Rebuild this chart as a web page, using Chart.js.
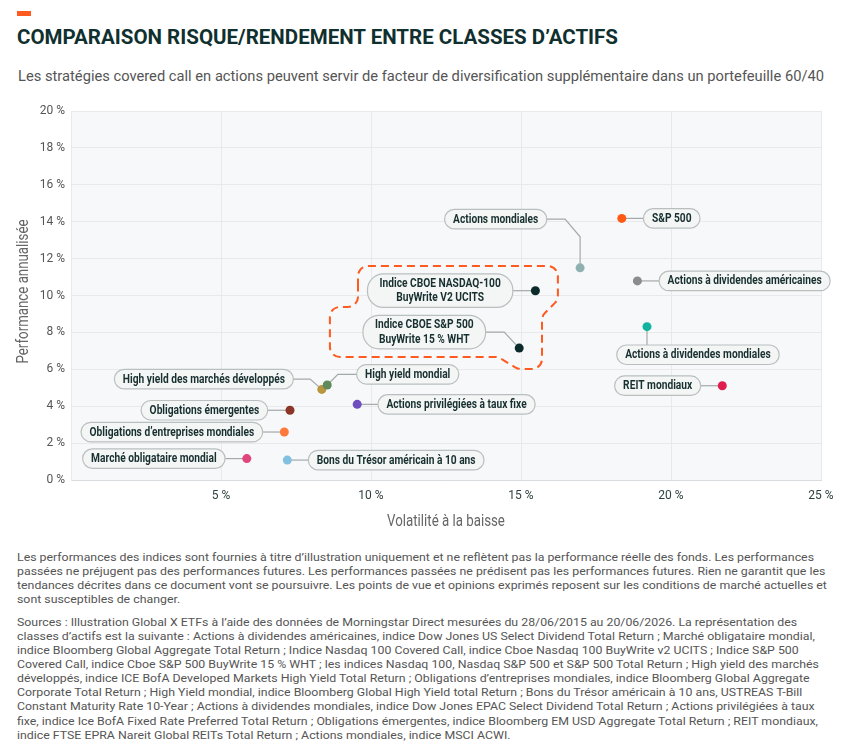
<!DOCTYPE html>
<html lang="fr">
<head>
<meta charset="utf-8">
<title>Comparaison risque/rendement entre classes d’actifs</title>
<script src="https://cdn.jsdelivr.net/npm/chart.js@4.4.1/dist/chart.umd.min.js"></script>
<style>
  html, body { margin: 0; padding: 0; background: #fff; }
  body { width: 851px; height: 752px; position: relative; overflow: hidden; font-family: Roboto, "Noto Sans", sans-serif; }
  .bar { position: absolute; left: 17px; top: 11px; width: 14px; height: 5px; background: #ff5a1f; }
  .fit { position: absolute; white-space: nowrap; transform-origin: 0 0; }
  #title { left: 17px; top: 24px; font-weight: 700; font-size: 21px; line-height: 26px; color: #10302f; }
  #subtitle { left: 18px; top: 66px; font-size: 15px; line-height: 20px; color: #555; }
  #chart { position: absolute; left: 0; top: 95px; width: 851px; height: 445px; }
  .note { left: 17px; font-size: 11.5px; line-height: 14.15px; color: #555; }
  #note1 { top: 550px; }
  #note2 { top: 614.5px; }
</style>
</head>
<body>
<div class="bar"></div>
<div id="title" class="fit" data-w="601"><span class="ref">COMPARAISON RISQUE/RENDEMENT ENTRE CLASSES D’ACTIFS</span></div>
<div id="subtitle" class="fit" data-w="806"><span class="ref">Les stratégies covered call en actions peuvent servir de facteur de diversification supplémentaire dans un portefeuille 60/40</span></div>

<canvas id="chart" width="851" height="445"></canvas>

<div id="note1" class="fit note" data-w="797"><span class="ref">Les performances des indices sont fournies à titre d’illustration uniquement et ne reflètent pas la performance réelle des fonds. Les performances</span><br>passées ne préjugent pas des performances futures. Les performances passées ne prédisent pas les performances futures. Rien ne garantit que les<br>tendances décrites dans ce document vont se poursuivre. Les points de vue et opinions exprimés reposent sur les conditions de marché actuelles et<br>sont susceptibles de changer.</div>
<div id="note2" class="fit note"><span class="ref">Sources : Illustration Global X ETFs à l’aide des données de Morningstar Direct mesurées du 28/06/2015 au 20/06/2026. La représentation des</span><br>classes d’actifs est la suivante : Actions à dividendes américaines, indice Dow Jones US Select Dividend Total Return ; Marché obligataire mondial,<br>indice Bloomberg Global Aggregate Total Return ; Indice Nasdaq 100 Covered Call, indice Cboe Nasdaq 100 BuyWrite v2 UCITS ; Indice S&amp;P 500<br>Covered Call, indice Cboe S&amp;P 500 BuyWrite 15 % WHT ; les indices Nasdaq 100, Nasdaq S&amp;P 500 et S&amp;P 500 Total Return ; High yield des marchés<br>développés, indice ICE BofA Developed Markets High Yield Total Return ; Obligations d’entreprises mondiales, indice Bloomberg Global Aggregate<br>Corporate Total Return ; High Yield mondial, indice Bloomberg Global High Yield total Return ; Bons du Trésor américain à 10 ans, USTREAS T-Bill<br>Constant Maturity Rate 10-Year ; Actions à dividendes mondiales, indice Dow Jones EPAC Select Dividend Total Return ; Actions privilégiées à taux<br>fixe, indice Ice BofA Fixed Rate Preferred Total Return ; Obligations émergentes, indice Bloomberg EM USD Aggregate Total Return ; REIT mondiaux,<br>indice FTSE EPRA Nareit Global REITs Total Return ; Actions mondiales, indice MSCI ACWI.</div>

<script>
// asset classes
var assetNames = [
  ["S&P 500"],
  ["Actions mondiales"],
  ["Indice CBOE NASDAQ-100", "BuyWrite V2 UCITS"],
  ["Indice CBOE S&P 500", "BuyWrite 15 % WHT"],
  ["Actions à dividendes américaines"],
  ["Actions à dividendes mondiales"],
  ["REIT mondiaux"],
  ["High yield des marchés développés"],
  ["High yield mondial"],
  ["Obligations émergentes"],
  ["Obligations d’entreprises mondiales"],
  ["Marché obligataire mondial"],
  ["Bons du Trésor américain à 10 ans"],
  ["Actions privilégiées à taux fixe"]
];
// downside volatility (%)
var volatility = [18.36, 16.97, 15.48, 14.94, 18.88, 19.2, 21.71, 8.36, 8.54, 7.3, 7.11, 5.86, 7.21, 9.54];
// annualised performance (%)
var performance = [14.18, 11.5, 10.26, 7.15, 10.79, 8.31, 5.11, 4.91, 5.15, 3.78, 2.6, 1.16, 1.08, 4.1];

var xTicks = [5, 10, 15, 20, 25];
var yTicks = [0, 2, 4, 6, 8, 10, 12, 14, 16, 18, 20];

// styles
var dotColors = ["#ff5a14", "#8fb1b1", "#0b2b2b", "#0b2b2b", "#8c8c8c", "#13b3a0", "#e01e4e",
                 "#b8963e", "#5f8a5a", "#8b3626", "#ff7a3a", "#e0457c", "#80c0e0", "#6e4fc0"];

// where each pill label sits relative to its dot (px): anchor side, offset, elbow points
var labelLayout = [
  {a: "L", dx: 21.6, dy: 0},
  {a: "R", dx: -33.3, dy: -48.7, via: [[0, -31], [-15, -48.7]]},
  {a: "R", dx: -22.6, dy: 0},
  {a: "R", dx: -33.6, dy: -16, via: [[-15, -16]]},
  {a: "L", dx: 21.7, dy: 0},
  {a: "T", dx: 0, dy: 18.3, inset: 30.3},
  {a: "R", dx: -21.6, dy: 0},
  {a: "R", dx: -28.4, dy: -10.3, via: [[-11.7, -10.3]]},
  {a: "L", dx: 29.4, dy: -10.7, via: [[10.7, -10.7]]},
  {a: "R", dx: -22.3, dy: 0},
  {a: "R", dx: -21.6, dy: 0},
  {a: "R", dx: -21.7, dy: 0},
  {a: "L", dx: 21, dy: 0},
  {a: "L", dx: 20.7, dy: 0}
];

// dashed outline round the two covered call indices, in axis units
var outlineX = [9.567, 16.23, 16.23, 15.70, 15.70, 14.9, 14.23, 8.63, 8.63, 9.567];
var outlineY = [11.60, 11.60, 9.76, 8.89, 6.02, 6.02, 6.67, 6.67, 9.38, 9.38];

var LABEL_FONT = "bold 12px Roboto";
var SQUEEZE = 0.85;

function fitText() {
  var scale = null;
  document.querySelectorAll(".fit").forEach(function (el) {
    var ref = el.querySelector(".ref");
    if (el.dataset.w) {
      scale = parseFloat(el.dataset.w) / ref.getBoundingClientRect().width;
    }
    el.style.transform = "scaleX(" + scale + ")";
  });
}

function pillBox(ctx, lines, p, lay) {
  ctx.font = LABEL_FONT;
  var w = 0;
  lines.forEach(function (l) { w = Math.max(w, ctx.measureText(l).width * SQUEEZE); });
  var bw = w + (lines.length > 1 ? 24 : 17);
  var bh = lines.length > 1 ? 33.5 : 19.5;
  var ax = p.x + lay.dx, ay = p.y + lay.dy, left, top;
  if (lay.a === "L") { left = ax; top = ay - bh / 2; }
  else if (lay.a === "R") { left = ax - bw; top = ay - bh / 2; }
  else { left = ax - lay.inset; top = ay; }
  return {left: left, top: top, w: bw, h: bh};
}

var plotBackground = {
  id: "plotBackground",
  beforeDraw: function (chart) {
    var a = chart.chartArea, ctx = chart.ctx;
    ctx.save();
    ctx.fillStyle = "#f7f8f9";
    ctx.fillRect(a.left, a.top, a.right - a.left, a.bottom - a.top);
    ctx.restore();
  }
};

var connectors = {
  id: "connectors",
  beforeDatasetsDraw: function (chart) {
    var ctx = chart.ctx, pts = chart.getDatasetMeta(0).data;
    ctx.save();
    ctx.strokeStyle = "#a3a9a9";
    ctx.lineWidth = 1.2;
    labelLayout.forEach(function (lay, i) {
      var p = pts[i];
      ctx.beginPath();
      ctx.moveTo(p.x, p.y);
      (lay.via || []).forEach(function (v) { ctx.lineTo(p.x + v[0], p.y + v[1]); });
      ctx.lineTo(p.x + lay.dx, p.y + lay.dy);
      ctx.stroke();
    });
    ctx.restore();
  }
};

var pillLabels = {
  id: "pillLabels",
  afterDatasetsDraw: function (chart) {
    var ctx = chart.ctx, pts = chart.getDatasetMeta(0).data;
    var xs = chart.scales.x, ys = chart.scales.y;

    // the orange dashed outline
    var pp = outlineX.map(function (v, i) {
      return {x: xs.getPixelForValue(v), y: ys.getPixelForValue(outlineY[i])};
    });
    var n = pp.length;
    ctx.save();
    ctx.strokeStyle = "#ff5a1f";
    ctx.lineWidth = 2;
    ctx.setLineDash([8, 5]);
    ctx.beginPath();
    ctx.moveTo((pp[n - 1].x + pp[0].x) / 2, (pp[n - 1].y + pp[0].y) / 2);
    for (var k = 0; k < n; k++) {
      var c = pp[k], nx = pp[(k + 1) % n];
      ctx.arcTo(c.x, c.y, nx.x, nx.y, 10);
    }
    ctx.closePath();
    ctx.stroke();
    ctx.restore();

    ctx.save();
    labelLayout.forEach(function (lay, i) {
      var lines = assetNames[i];
      var b = pillBox(ctx, lines, pts[i], lay);
      var r = Math.min(b.h / 2, 16);
      ctx.beginPath();
      ctx.roundRect(b.left, b.top, b.w, b.h, r);
      ctx.fillStyle = "#f4f5f5";
      ctx.fill();
      ctx.lineWidth = 1.2;
      ctx.strokeStyle = "#b9bfbf";
      ctx.stroke();

      ctx.font = LABEL_FONT;
      ctx.fillStyle = "#17302f";
      ctx.textAlign = "center";
      ctx.textBaseline = "middle";
      var cx = b.left + b.w / 2, cy = b.top + b.h / 2;
      lines.forEach(function (l, j) {
        var off = (j - (lines.length - 1) / 2) * 14.4;
        ctx.save();
        ctx.translate(cx, cy + off + 0.5);
        ctx.scale(SQUEEZE, 1);
        ctx.fillText(l, 0, 0);
        ctx.restore();
      });
    });
    ctx.restore();
  }
};

var axisTitles = {
  id: "axisTitles",
  afterDraw: function (chart) {
    var ctx = chart.ctx, a = chart.chartArea;
    ctx.save();
    ctx.font = "16px Roboto";
    ctx.fillStyle = "#666";
    ctx.textAlign = "center";
    ctx.textBaseline = "middle";
    ctx.save();
    ctx.translate((a.left + a.right) / 2, a.bottom + 42);
    ctx.scale(0.83, 1);
    ctx.fillText("Volatilité à la baisse", 0, 0);
    ctx.restore();
    ctx.save();
    ctx.translate(24, (a.top + a.bottom) / 2 - 4);
    ctx.rotate(-Math.PI / 2);
    ctx.scale(0.83, 1);
    ctx.fillText("Performance annualisée", 0, 0);
    ctx.restore();
    ctx.restore();
  }
};

function pct(v) { return v + " %"; }

function drawChart() {
  var points = volatility.map(function (x, i) { return {x: x, y: performance[i]}; });
  new Chart(document.getElementById("chart"), {
    type: "scatter",
    data: {
      datasets: [{
        data: points,
        pointBackgroundColor: dotColors,
        pointBorderWidth: 0,
        pointRadius: 4.5,
        pointHoverRadius: 4.5
      }]
    },
    options: {
      responsive: false,
      animation: false,
      layout: {padding: {top: 16, right: 30, bottom: 0, left: 0}},
      plugins: {legend: {display: false}, tooltip: {enabled: false}},
      scales: {
        x: {
          type: "linear", min: 0, max: 25,
          afterBuildTicks: function (s) { s.ticks = [0].concat(xTicks).map(function (v) { return {value: v}; }); },
          afterFit: function (s) { s.height = 60; },
          ticks: {
            padding: 9, color: "#2f3f3f", font: {family: "Roboto", size: 12},
            callback: function (v) { return v === 0 ? "" : pct(v); }
          },
          grid: {color: "#e7e9eb", drawTicks: false},
          border: {color: "#d9dcdf"}
        },
        y: {
          type: "linear", min: 0, max: 20,
          afterBuildTicks: function (s) { s.ticks = yTicks.map(function (v) { return {value: v}; }); },
          afterFit: function (s) { s.width = 71; },
          ticks: {
            padding: 6, color: "#555", font: {family: "Roboto", size: 12},
            callback: function (v) { return pct(v); }
          },
          grid: {color: "#e7e9eb", drawTicks: false},
          border: {color: "#e7e9eb"}
        }
      }
    },
    plugins: [plotBackground, connectors, pillLabels, axisTitles]
  });
}

fitText();
drawChart();
</script>
</body>
</html>
